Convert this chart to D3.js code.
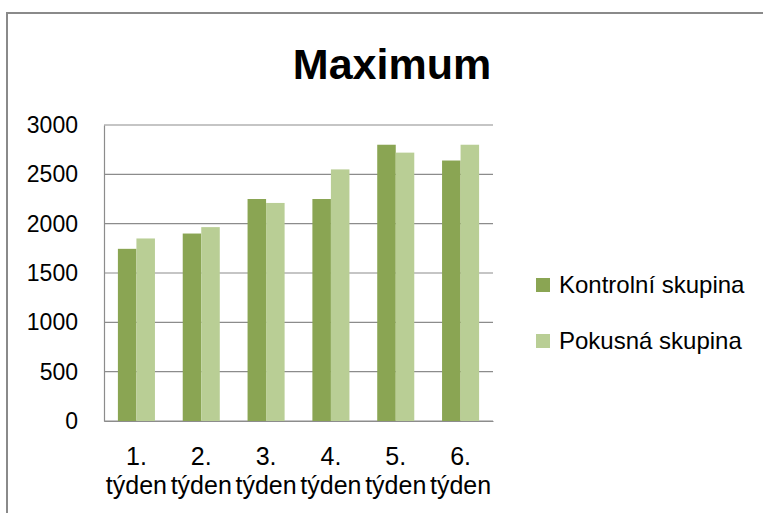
<!DOCTYPE html>
<html>
<head>
<meta charset="utf-8">
<script src="https://cdn.jsdelivr.net/npm/d3@7"></script>
<style>
  html, body { margin: 0; padding: 0; background: #fff; }
  svg { display: block; }
</style>
</head>
<body>
<svg id="chart" width="763" height="513"></svg>
<script>
// Weekly maxima for the two groups
const weeks = ["1. týden", "2. týden", "3. týden", "4. týden", "5. týden", "6. týden"];
const seriesNames = ["Kontrolní skupina", "Pokusná skupina"];
const kontrolni = [1745, 1900, 2250, 2250, 2800, 2640];
const pokusna = [1850, 1965, 2210, 2550, 2720, 2800];
const yTicks = [0, 500, 1000, 1500, 2000, 2500, 3000];
const titleText = "Maximum";

const colors = ["#8AA553", "#B9CE95"];
const seriesValues = [kontrolni, pokusna];

const svg = d3.select("#chart");
const font = "'Liberation Sans', Arial, sans-serif";

// chart frame
svg.append("rect")
  .attr("x", 7).attr("y", 13)
  .attr("width", 800).attr("height", 600)
  .attr("fill", "#fff")
  .attr("stroke", "#8a8a8a")
  .attr("stroke-width", 2);

const plot = { left: 104, right: 493, top: 125, bottom: 421 };

const x = d3.scaleBand()
  .domain(weeks)
  .range([plot.left, plot.right])
  .paddingInner(0.4286)
  .paddingOuter(0.2143);

const xs = d3.scaleBand()
  .domain(seriesNames)
  .range([0, x.bandwidth()]);

const y = d3.scaleLinear()
  .domain([0, 3000])
  .range([plot.bottom, plot.top]);

// gridlines
svg.append("g")
  .selectAll("line")
  .data(yTicks)
  .join("line")
  .attr("x1", plot.left).attr("x2", plot.right)
  .attr("y1", d => y(d)).attr("y2", d => y(d))
  .attr("stroke", "#8c8c8c")
  .attr("stroke-width", 1.2);

// y axis
const yAxis = svg.append("g")
  .attr("transform", `translate(${plot.left},0)`)
  .call(d3.axisLeft(y).tickValues(yTicks).tickFormat(d3.format("d")).tickSize(0).tickPadding(26));
yAxis.select(".domain").attr("stroke", "#8c8c8c").attr("stroke-width", 1.2);
yAxis.selectAll("text")
  .attr("font-family", font)
  .attr("font-size", 23)
  .attr("fill", "#000");

// bars
const groups = svg.append("g")
  .selectAll("g")
  .data(weeks)
  .join("g")
  .attr("transform", d => `translate(${x(d)},0)`);

groups.selectAll("rect")
  .data((w, i) => seriesNames.map((s, k) => ({ s, k, v: seriesValues[k][i] })))
  .join("rect")
  .attr("x", d => xs(d.s))
  .attr("width", xs.bandwidth())
  .attr("y", d => y(d.v))
  .attr("height", d => y(0) - y(d.v))
  .attr("fill", d => colors[d.k]);

// x axis
const xAxis = svg.append("g")
  .attr("transform", `translate(0,${plot.bottom})`)
  .call(d3.axisBottom(x).tickSize(0).tickFormat(""));
xAxis.select(".domain").attr("stroke", "#8c8c8c").attr("stroke-width", 1.2);
xAxis.selectAll(".tick").each(function (d) {
  const parts = d.split(" ");
  const t = d3.select(this).append("text")
    .attr("text-anchor", "middle")
    .attr("font-family", font)
    .attr("font-size", 25)
    .attr("fill", "#000");
  t.append("tspan").attr("x", 0).attr("y", 44).text(parts[0]);
  t.append("tspan").attr("x", 0).attr("y", 73).text(parts[1]);
});

// title
svg.append("text")
  .attr("x", 392).attr("y", 79)
  .attr("text-anchor", "middle")
  .attr("font-family", font)
  .attr("font-weight", "bold")
  .attr("font-size", 43)
  .attr("fill", "#000")
  .text(titleText);

// legend
const legend = svg.append("g")
  .selectAll("g")
  .data(seriesNames)
  .join("g")
  .attr("transform", (d, i) => `translate(536,${278 + i * 56})`);
legend.append("rect")
  .attr("width", 14).attr("height", 14)
  .attr("fill", (d, i) => colors[i]);
legend.append("text")
  .attr("x", 23).attr("y", 7)
  .attr("dy", "0.35em")
  .attr("font-family", font)
  .attr("font-size", 24)
  .attr("fill", "#000")
  .text(d => d);
</script>
</body>
</html>
